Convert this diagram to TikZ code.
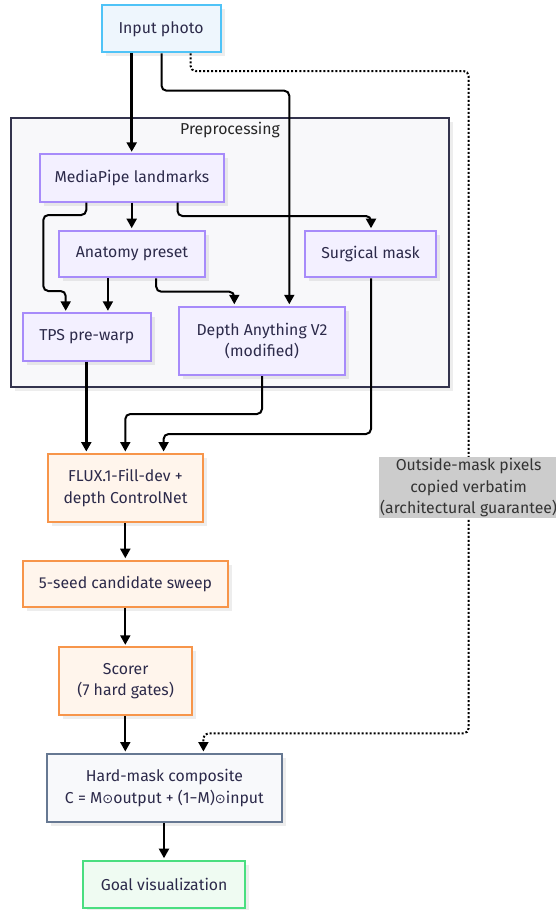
\documentclass[tikz,border=0pt]{standalone}
\usepackage{fontspec}
\setmainfont{Fira Sans}
\newfontfamily\dejavu{DejaVu Sans}
\usetikzlibrary{arrows.meta,shadows}
\definecolor{txt}{HTML}{2C2A4A}
\definecolor{bluebd}{HTML}{4FC3F7}
\definecolor{bluefl}{HTML}{EEF6FD}
\definecolor{purbd}{HTML}{A78BFA}
\definecolor{purfl}{HTML}{F3F0FF}
\definecolor{orbd}{HTML}{F7954A}
\definecolor{orfl}{HTML}{FFF5EC}
\definecolor{slbd}{HTML}{667892}
\definecolor{slfl}{HTML}{F8F9FB}
\definecolor{grbd}{HTML}{4ADE80}
\definecolor{grfl}{HTML}{EFFBF2}
\definecolor{clbd}{HTML}{33334D}
\definecolor{clfl}{HTML}{F8F8FA}
\definecolor{lblfl}{HTML}{CCCCCC}
\definecolor{lbltx}{HTML}{333333}
\newcommand{\odotsym}{{\dejavu\fontsize{13}{16}\selectfont ⊙}}
\begin{document}
\begin{tikzpicture}[x=1pt,y=-1pt,
  shad/.style={drop shadow={shadow xshift=4pt,shadow yshift=-4pt,fill=black,opacity=0.07}},
  box/.style={rectangle,draw,line width=2pt,align=center,inner sep=0pt,
    font=\fontsize{15.8}{21.3}\selectfont,text=txt,shad},
  bluebox/.style={box,draw=bluebd,fill=bluefl},
  purbox/.style={box,draw=purbd,fill=purfl},
  orbox/.style={box,draw=orbd,fill=orfl},
  slbox/.style={box,draw=slbd,fill=slfl},
  grbox/.style={box,draw=grbd,fill=grfl},
  edge/.style={line width=2pt,-{Triangle[length=9.5pt,width=10pt]},shorten >=1.5pt,rounded corners=5pt},
  thickedge/.style={edge,line width=3pt},
  dotedge/.style={edge,dash pattern=on 2pt off 2pt}
]
\useasboundingbox (0,0) rectangle (556,910);

% cluster
\node[rectangle,draw=clbd,fill=clfl,line width=1.8pt,minimum width=438pt,minimum height=268.4pt,inner sep=0pt,shad] (pre) at (230,252.5) {};
\node[font=\fontsize{15.8}{18}\selectfont,text=black!85,inner sep=0pt] (prelbl) at (230,130) {Preprocessing};

% nodes
\node[bluebox,minimum width=119pt,minimum height=47pt] (inp) at (161,28.8) {Input photo};
\node[purbox,minimum width=183.5pt,minimum height=47.4pt] (mp) at (131.9,178) {MediaPipe landmarks};
\node[purbox,minimum width=146.3pt,minimum height=46.6pt] (ana) at (132,254) {Anatomy preset};
\node[purbox,minimum width=131.7pt,minimum height=46.6pt] (sur) at (370.5,254) {Surgical mask};
\node[purbox,minimum width=127.4pt,minimum height=47.4pt] (tps) at (86.8,337) {TPS pre-warp};
\node[purbox,minimum width=165.4pt,minimum height=68.3pt] (dep) at (262,340.9) {Depth Anything V2\\(modified)};
\node[orbox,minimum width=155pt,minimum height=68pt] (flux) at (125.5,488) {FLUX.1-Fill-dev +\\depth ControlNet};
\node[orbox,minimum width=205.6pt,minimum height=46.6pt] (seed) at (125.5,584) {5-seed candidate sweep};
\node[orbox,minimum width=132.7pt,minimum height=68pt] (sco) at (125.7,681.3) {Scorer\\(7 hard gates)};
\node[slbox,minimum width=234.3pt,minimum height=68pt] (hm) at (164.4,788) {Hard-mask composite\\C = M\odotsym output + (1−M)\odotsym input};
\node[grbox,minimum width=161.6pt,minimum height=47.6pt] (goal) at (164.2,884.5) {Goal visualization};

% edges
\draw[thickedge] (131.7,0 |- inp.south) -- (131.7,0 |- mp.north);
\draw[edge] (161.5,0 |- inp.south) |- (289.3,90.7) -- (289.3,0 |- dep.north);
\draw[dotedge] (190.6,0 |- inp.south) |- (468.6,71) |- (203.4,733.3) -- (203.4,0 |- hm.north);

\draw[edge] (86.3,0 |- mp.south) |- (43.3,215) |- (65.7,291) -- (65.7,0 |- tps.north);
\draw[edge] (131.7,0 |- mp.south) -- (131.7,0 |- ana.north);
\draw[edge] (177.5,0 |- mp.south) |- (371,216) -- (371,0 |- sur.north);
\draw[edge] (107.9,0 |- ana.south) -- (107.9,0 |- tps.north);
\draw[edge] (156.2,0 |- ana.south) |- (234.3,291.7) -- (234.3,0 |- dep.north);

\draw[thickedge] (86.3,0 |- tps.south) -- (86.3,0 |- flux.north);
\draw[edge] (262,0 |- dep.south) |- (125.3,414) -- (125.3,0 |- flux.north);
\draw[edge] (371,0 |- sur.south) |- (163.6,434) -- (163.6,0 |- flux.north);

\draw[edge] (125.3,0 |- flux.south) -- (125.3,0 |- seed.north);
\draw[edge] (125.3,0 |- seed.south) -- (125.3,0 |- sco.north);
\draw[edge] (125.3,0 |- sco.south) -- (125.3,0 |- hm.north);
\draw[edge] (164,0 |- hm.south) -- (164,0 |- goal.north);

% label on dotted edge
\node[fill=lblfl,text=lbltx,align=center,inner sep=1.5pt,font=\fontsize{15.8}{21.3}\selectfont] (lbl) at (468.6,487.7) {Outside-mask pixels\\copied verbatim\\(architectural guarantee)};
\end{tikzpicture}
\end{document}
